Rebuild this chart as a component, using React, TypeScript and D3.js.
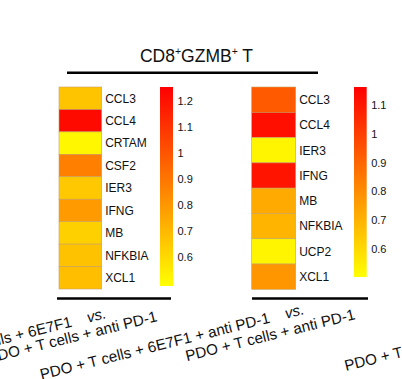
import React from "react";
import * as d3 from "d3";

// ---- data ----
const leftGenes = ["CCL3", "CCL4", "CRTAM", "CSF2", "IER3", "IFNG", "MB", "NFKBIA", "XCL1"];
const leftValues = [0.667, 1.223, 0.514, 0.873, 0.655, 0.792, 0.631, 0.673, 0.685];
const leftDomain = [0.49, 1.253];
const leftTicks = [0.6, 0.7, 0.8, 0.9, 1, 1.1, 1.2];

const rightGenes = ["CCL3", "CCL4", "IER3", "IFNG", "MB", "NFKBIA", "UCP2", "XCL1"];
const rightValues = [0.93, 1.123, 0.53, 1.11, 0.723, 0.698, 0.53, 0.775];
const rightDomain = [0.504, 1.162];
const rightTicks = [0.6, 0.7, 0.8, 0.9, 1, 1.1];

const titleMain = ["CD8", "GZMB", " T"];
const groupLabels = [
  ["PDO + T cells + 6E7F1", "PDO + T cells + anti PD-1"],
  ["PDO + T cells + 6E7F1 + anti PD-1", "PDO + T cells + anti PD-1"],
];
const partialLabel = "PDO + T cells + 6E7F1";

const FONT = "'Liberation Sans', Arial, Helvetica, sans-serif";
const LOW = "#ffff00";
const HIGH = "#ff0000";

type PanelProps = {
  id: string;
  genes: string[];
  values: number[];
  domain: number[];
  ticks: number[];
  x0: number;
  x1: number;
  y0: number;
  y1: number;
  cbX: number;
  cbW: number;
  cbY0: number;
  cbY1: number;
};

function Panel(p: PanelProps) {
  const color = d3.scaleLinear<string>().domain(p.domain).range([LOW, HIGH]);
  const y = d3.scaleBand<string>().domain(p.genes).range([p.y0, p.y1]).padding(0);
  const cy = d3.scaleLinear().domain(p.domain).range([p.cbY1, p.cbY0]);
  const fmt = (v: number) => (v === 1 ? "1" : d3.format(".1f")(v));
  return (
    <g>
      <defs>
        <linearGradient id={p.id} x1="0" y1="1" x2="0" y2="0">
          <stop offset="0%" stopColor={LOW} />
          <stop offset="100%" stopColor={HIGH} />
        </linearGradient>
      </defs>
      {p.genes.map((g, i) => (
        <g key={g}>
          <rect
            x={p.x0}
            y={y(g)!}
            width={p.x1 - p.x0}
            height={y.bandwidth()}
            fill={color(p.values[i])}
            stroke="#c9a060"
            strokeWidth={0.6}
          />
          <text
            x={p.x1 + 3.5}
            y={y(g)! + y.bandwidth() / 2}
            dy="0.36em"
            fontSize={12}
            fontFamily={FONT}
            fill="#111"
          >
            {g}
          </text>
        </g>
      ))}
      <rect x={p.cbX} y={p.cbY0} width={p.cbW} height={p.cbY1 - p.cbY0} fill={`url(#${p.id})`} />
      {p.ticks.map((t) => (
        <text
          key={t}
          x={p.cbX + p.cbW + 4.5}
          y={cy(t)}
          dy="0.36em"
          fontSize={11}
          fontFamily={FONT}
          fill="#111"
        >
          {fmt(t)}
        </text>
      ))}
    </g>
  );
}

function RotLabel({ x, y, text, vs, anchor }: { x: number; y: number; text: string; vs?: boolean; anchor: string }) {
  return (
    <text
      transform={`translate(${x},${y}) rotate(-14)`}
      textAnchor={anchor}
      fontSize={15.2}
      fontFamily={FONT}
      fill="#111"
    >
      {text}
      {vs ? (
        <tspan fontStyle="italic" dx={16}>
          vs.
        </tspan>
      ) : null}
    </text>
  );
}

export default function App() {
  return (
    <svg
      width={402}
      height={379}
      viewBox="0 0 402 379"
      style={{ position: "absolute", left: 0, top: 0, background: "#fff" }}
    >
      <rect x={0} y={0} width={402} height={379} fill="#fff" />
      {/* title */}
      <text x={196.5} y={62} textAnchor="middle" fontSize={17.5} fontFamily={FONT} fill="#111">
        {titleMain[0]}
        <tspan fontSize={10.5} dy={-7}>+</tspan>
        <tspan dy={7}>{titleMain[1]}</tspan>
        <tspan fontSize={10.5} dy={-7}>+</tspan>
        <tspan dy={7}>{titleMain[2]}</tspan>
      </text>
      <line x1={67} x2={318} y1={72.7} y2={72.7} stroke="#000" strokeWidth={2.5} />

      <Panel
        id="gradL"
        genes={leftGenes}
        values={leftValues}
        domain={leftDomain}
        ticks={leftTicks}
        x0={59}
        x1={101.7}
        y0={87}
        y1={289}
        cbX={160}
        cbW={13}
        cbY0={87}
        cbY1={286}
      />
      <Panel
        id="gradR"
        genes={rightGenes}
        values={rightValues}
        domain={rightDomain}
        ticks={rightTicks}
        x0={251.7}
        x1={295.7}
        y0={87}
        y1={289.3}
        cbX={354}
        cbW={12.7}
        cbY0={87}
        cbY1={277}
      />

      <line x1={57} x2={171} y1={298.5} y2={298.5} stroke="#000" strokeWidth={2.5} />
      <line x1={252} x2={368} y1={298.5} y2={298.5} stroke="#000" strokeWidth={2.5} />

      <RotLabel x={107} y={318} text={groupLabels[0][0]} vs anchor="end" />
      <RotLabel x={158} y={321} text={groupLabels[0][1]} anchor="end" />
      <RotLabel x={305} y={314} text={groupLabels[1][0]} vs anchor="end" />
      <RotLabel x={356} y={319} text={groupLabels[1][1]} anchor="end" />
      <RotLabel x={346} y={371} text={partialLabel} anchor="start" />
    </svg>
  );
}
